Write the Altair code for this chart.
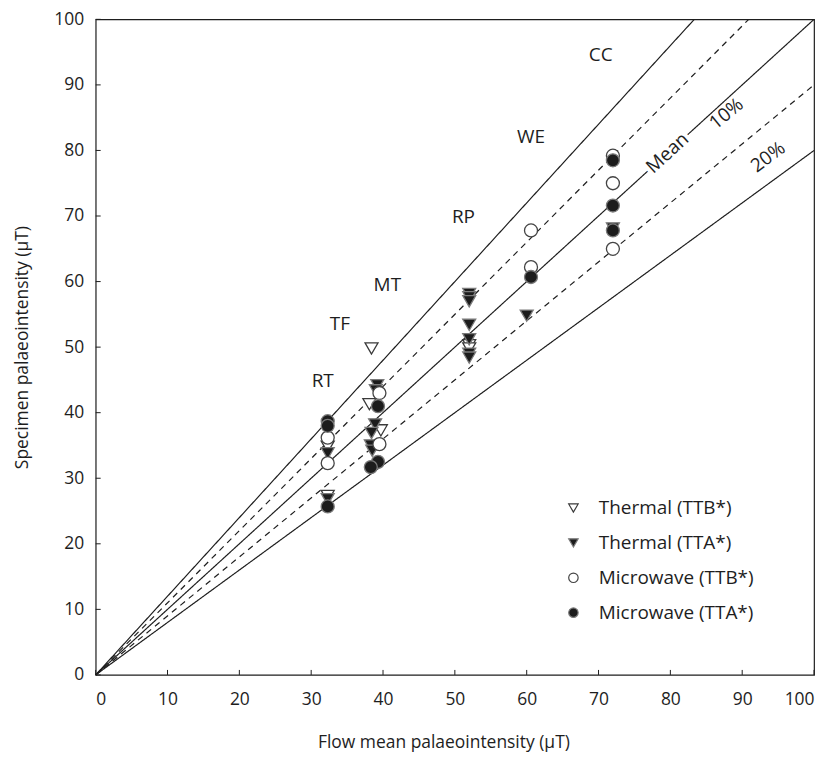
import altair as alt
import pandas as pd

FONT = "Open Sans"
INK = "#1e1e1e"

# ---- data ----
axis_ticks = [0, 10, 20, 30, 40, 50, 60, 70, 80, 90, 100]

line_slopes = [1.2, 1.1, 1.0, 0.9, 0.8]
line_styles = ["solid", "dashed", "solid", "dashed", "solid"]

label_text = ["CC", "WE", "RP", "MT", "TF", "RT", "Mean", "10%", "20%"]
label_x = [70.3, 60.6, 51.2, 40.6, 34.0, 31.6, 79.6, 87.8, 93.6]
label_y = [94.6, 82.0, 69.9, 59.4, 53.6, 44.9, 79.6, 85.6, 79.0]
label_angle = [0, 0, 0, 0, 0, 0, 317.5, 320.5, 323.5]
label_halo = [False, False, False, False, False, False, True, False, False]

thermal_ttb_x = [38.4, 32.3, 32.3, 38.1, 39.7, 52.0, 52.0]
thermal_ttb_y = [49.8, 34.8, 27.3, 41.3, 37.3, 50.3, 49.8]

thermal_tta_x = [32.3, 32.3, 39.2, 39.0, 38.9, 38.4, 38.3, 38.5,
                 52.0, 52.0, 52.0, 52.0, 52.0, 52.0, 52.0, 60.0, 72.0]
thermal_tta_y = [33.8, 26.8, 44.2, 43.4, 38.2, 36.9, 35.0, 34.2,
                 58.1, 57.6, 57.0, 53.4, 51.2, 49.0, 48.4, 54.8, 68.1]

microwave_ttb_x = [32.3, 32.3, 39.5, 39.5, 60.6, 60.6, 72.0, 72.0, 72.0]
microwave_ttb_y = [36.2, 32.3, 43.0, 35.2, 67.8, 62.2, 79.2, 75.0, 65.0]

microwave_tta_x = [32.3, 32.3, 32.3, 39.3, 39.3, 38.3, 60.6, 72.0, 72.0, 72.0]
microwave_tta_y = [38.7, 38.0, 25.7, 41.0, 32.5, 31.7, 60.7, 78.5, 71.6, 67.8]

series_names = ["Thermal (TTB*)", "Thermal (TTA*)", "Microwave (TTB*)", "Microwave (TTA*)"]

# ---- tables ----
line_rows = []
for s, st in zip(line_slopes, line_styles):
    line_rows.append({"slope": s, "style": st, "x": 0.0, "y": 0.0})
    line_rows.append({"slope": s, "style": st, "x": min(100.0, 100.0 / s), "y": min(100.0, 100.0 * s)})
lines_df = pd.DataFrame(line_rows)

labels_df = pd.DataFrame({"text": label_text, "x": label_x, "y": label_y,
                          "angle": label_angle, "halo": label_halo})

pts = []
for name, xs_, ys_ in zip(series_names,
                          [thermal_ttb_x, thermal_tta_x, microwave_ttb_x, microwave_tta_x],
                          [thermal_ttb_y, thermal_tta_y, microwave_ttb_y, microwave_tta_y]):
    for a, b in zip(xs_, ys_):
        pts.append({"x": a, "y": b, "type": name})
pts_df = pd.DataFrame(pts)

ticks_df = pd.DataFrame({"v": axis_ticks})

W, H = 721, 658

xs = alt.Scale(domain=[0, 100], nice=False, zero=False)
ys = alt.Scale(domain=[0, 100], nice=False, zero=False)

x_axis = alt.Axis(values=axis_ticks, title="Flow mean palaeointensity (\u03bcT)", grid=False,
                  tickSize=0, labelPadding=16, titlePadding=25, domain=False, titleX=349)
y_axis = alt.Axis(values=axis_ticks, title="Specimen palaeointensity (\u03bcT)", grid=False,
                  tickSize=0, labelPadding=12, titlePadding=22, domain=False)

lines = alt.Chart(lines_df).mark_line(color=INK, strokeWidth=1.2).encode(
    x=alt.X("x:Q", scale=xs, axis=x_axis),
    y=alt.Y("y:Q", scale=ys, axis=y_axis),
    detail="slope:N",
    strokeDash=alt.StrokeDash("style:N", scale=alt.Scale(domain=["solid", "dashed"],
                                                          range=[[1, 0], [6, 5]]), legend=None),
)

halo = alt.Chart(labels_df).transform_filter("datum.halo").mark_text(
    font=FONT, fontSize=19, color="white", stroke="white", strokeWidth=8,
    align="center", baseline="middle").encode(
    x=alt.X("x:Q", scale=xs),
    y=alt.Y("y:Q", scale=ys),
    text="text:N",
    angle=alt.Angle("angle:Q", scale=None),
)

texts = alt.Chart(labels_df).mark_text(font=FONT, fontSize=19, color=INK,
                                       align="center", baseline="middle").encode(
    x=alt.X("x:Q", scale=xs),
    y=alt.Y("y:Q", scale=ys),
    text="text:N",
    angle=alt.Angle("angle:Q", scale=None),
)

leg = alt.Legend(title=None, orient="none", legendX=470, legendY=481, padding=0,
                 labelFont=FONT, labelFontSize=19, labelColor=INK, symbolSize=90,
                 rowPadding=15, labelOffset=16, symbolStrokeWidth=1.2)

points = alt.Chart(pts_df).mark_point(size=170, strokeWidth=1.3, filled=False, opacity=1).encode(
    x=alt.X("x:Q", scale=xs),
    y=alt.Y("y:Q", scale=ys),
    shape=alt.Shape("type:N", scale=alt.Scale(domain=series_names,
                    range=["triangle-down", "triangle-down", "circle", "circle"]), legend=leg),
    fill=alt.Fill("type:N", scale=alt.Scale(domain=series_names,
                  range=["white", "#1c1c1c", "white", "#1c1c1c"]), legend=leg),
    stroke=alt.Stroke("type:N", scale=alt.Scale(domain=series_names,
                      range=["#3a3a3a", "#7a7a7a", "#444444", "#7a7a7a"]), legend=leg),
)

left_ticks = alt.Chart(ticks_df).mark_rule(color=INK, strokeWidth=1).encode(
    y=alt.Y("v:Q", scale=ys), x=alt.value(0), x2=alt.value(5))
bottom_ticks = alt.Chart(ticks_df).mark_rule(color=INK, strokeWidth=1).encode(
    x=alt.X("v:Q", scale=xs), y=alt.value(H), y2=alt.value(H - 5))

chart = alt.layer(lines, halo, texts, left_ticks, bottom_ticks, points).properties(
    width=W, height=H,
    autosize=alt.AutoSizeParams(type="none"),
    padding={"left": 88, "top": 10, "right": 10, "bottom": 80},
    background="white",
).configure_view(stroke=INK, strokeWidth=1.2).configure_axis(
    labelFont=FONT, labelFontSize=17.5, labelColor=INK,
    titleFont=FONT, titleFontSize=17.5, titleColor=INK, titleFontWeight="normal",
)

chart.save("out.html", embed_options={"renderer": "svg", "actions": False})
